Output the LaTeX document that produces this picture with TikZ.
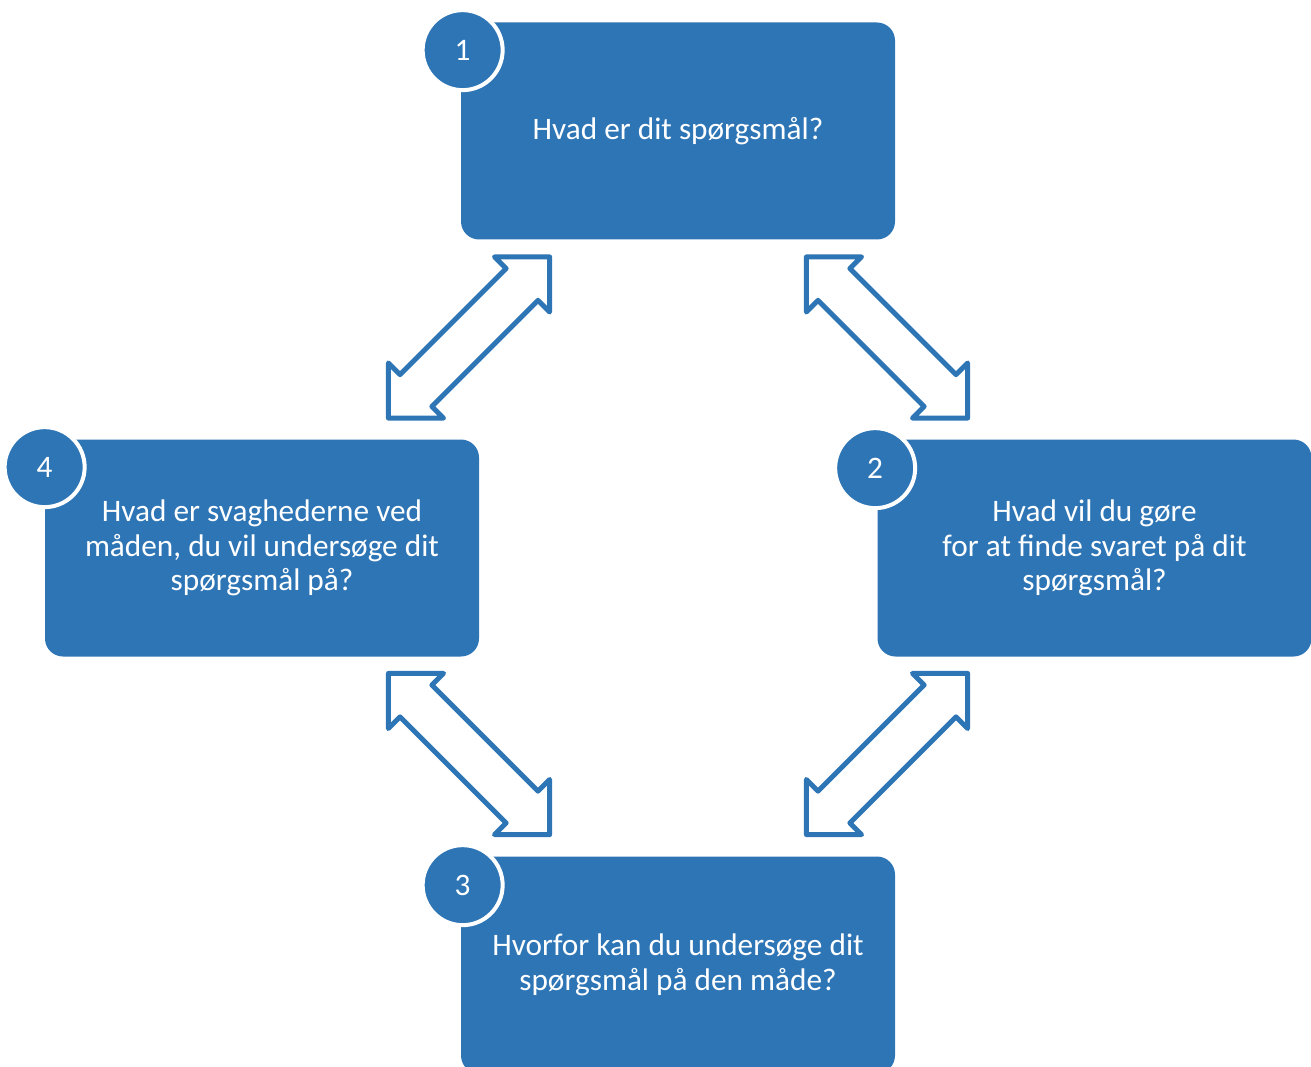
\documentclass[tikz,border=0pt]{standalone}
\usepackage{fontspec}
\setmainfont{Carlito}
\definecolor{stepblue}{RGB}{46,117,182}

\begin{document}
\begin{tikzpicture}[
  box/.style = {rectangle, rounded corners=0.36cm, fill=stepblue, text=white,
                minimum width=8.68cm, minimum height=4.34cm, align=center,
                font=\fontsize{17.8}{19.8}\selectfont},
  num/.style = {circle, fill=stepblue, draw=white, line width=0.08cm,
                minimum size=1.6cm, inner sep=0pt, text=white,
                font=\fontsize{17.8}{19.8}\selectfont},
  dblarrow/.pic = {
    \draw[stepblue, line width=0.1cm, line join=round, fill=white]
      (2.28,0) -- (1.5,0.78) -- (1.5,0.45) -- (-1.5,0.45) -- (-1.5,0.78)
      -- (-2.28,0) -- (-1.5,-0.78) -- (-1.5,-0.45) -- (1.5,-0.45)
      -- (1.5,-0.78) -- cycle;
  },
  ]
  \useasboundingbox (0,0) rectangle (26.22,21.32);

  % the four questions
  \node[box] (q1) at (13.56,18.70) {Hvad er dit spørgsmål?};
  \node[box] (q2) at (21.89,10.36) {Hvad vil du gøre\\for at finde svaret på dit\\spørgsmål?};
  \node[box] (q3) at (13.56,2.02) {Hvorfor kan du undersøge dit\\spørgsmål på den måde?};
  \node[box] (q4) at (5.24,10.36) {Hvad er svaghederne ved\\måden, du vil undersøge dit\\spørgsmål på?};

  % numbers
  \node[num] (n1) at ([xshift=0.04cm,yshift=-0.56cm]q1.north west) {1};
  \node[num] (n2) at ([xshift=-0.04cm,yshift=-0.58cm]q2.north west) {2};
  \node[num] (n3) at ([xshift=0.04cm,yshift=-0.58cm]q3.north west) {3};
  \node[num] (n4) at ([yshift=-0.56cm]q4.north west) {4};

  % arrows
  \pic[rotate=45]  at (9.38,14.57) {dblarrow};
  \pic[rotate=-45] at (17.74,14.57) {dblarrow};
  \pic[rotate=-45] at (9.38,6.24) {dblarrow};
  \pic[rotate=45]  at (17.74,6.24) {dblarrow};
\end{tikzpicture}
\end{document}
